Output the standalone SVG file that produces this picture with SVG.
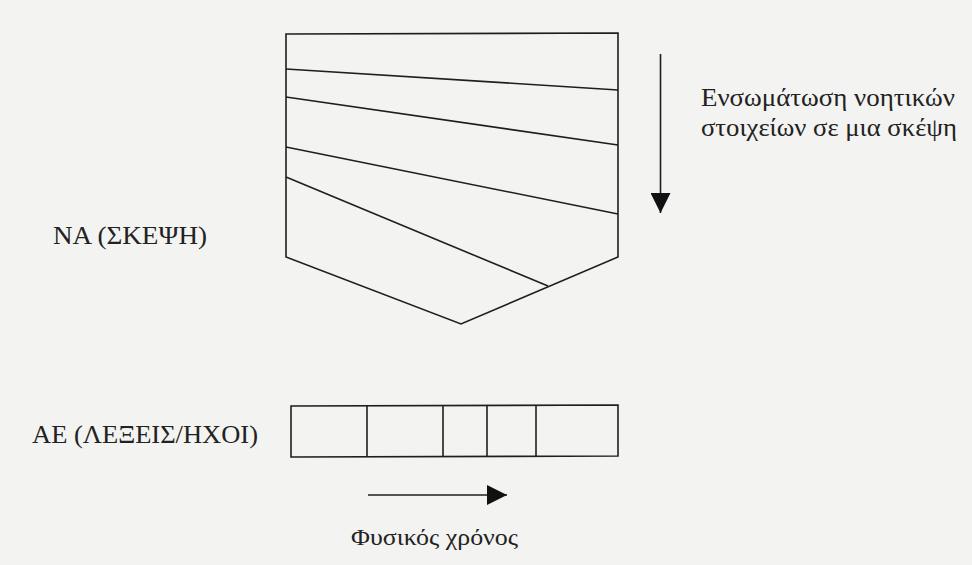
<svg xmlns="http://www.w3.org/2000/svg" width="972" height="565" viewBox="0 0 972 565">
<style>
.ln{fill:none;stroke:#1e1e1e;stroke-width:1.6;stroke-linejoin:miter}
.t{font-family:'Liberation Serif','DejaVu Serif',serif;fill:#222}
</style>
<defs>
<marker id="ah" viewBox="0 0 20 20" refX="20" refY="10" markerWidth="20" markerHeight="20" markerUnits="userSpaceOnUse" orient="auto">
<path d="M0,0 L20,10 L0,20 Z" fill="#111"/>
</marker>
</defs>
<rect width="972" height="565" fill="#f3f3f1"/>
<g id="thought">
<path class="ln" d="M286,34 L618,33 L618,257 L461,324 L286,257 Z"/>
<line class="ln" x1="286" y1="69" x2="618" y2="90"/>
<line class="ln" x1="286" y1="97" x2="618" y2="145"/>
<line class="ln" x1="286" y1="147" x2="618" y2="214"/>
<line class="ln" x1="286" y1="177" x2="548" y2="286"/>
</g>
<g id="words">
<path class="ln" d="M291,406 L618,405 L618,456 L291,457 Z"/>
<line class="ln" x1="367" y1="406" x2="367" y2="457"/>
<line class="ln" x1="443" y1="406" x2="443" y2="456"/>
<line class="ln" x1="487" y1="405" x2="487" y2="457"/>
<line class="ln" x1="536" y1="405" x2="536" y2="456"/>
</g>
<g id="connectors">
<line class="ln" x1="660.5" y1="54" x2="660.5" y2="213" marker-end="url(#ah)"/>
<line class="ln" x1="368" y1="495" x2="507" y2="495" marker-end="url(#ah)"/>
</g>
<g id="labels">
<text class="t" x="701" y="106" font-size="25" textLength="254" lengthAdjust="spacingAndGlyphs">Ενσωμάτωση νοητικών</text>
<text class="t" x="701" y="136" font-size="25" textLength="256" lengthAdjust="spacingAndGlyphs">στοιχείων σε μια σκέψη</text>
<text class="t" x="53" y="244" font-size="26" textLength="154" lengthAdjust="spacingAndGlyphs">ΝΑ (ΣΚΕΨΗ)</text>
<text class="t" x="32" y="443" font-size="26" textLength="226" lengthAdjust="spacingAndGlyphs">ΑΕ (ΛΕΞΕΙΣ/ΗΧΟΙ)</text>
<text class="t" x="351" y="545" font-size="24" textLength="167" lengthAdjust="spacingAndGlyphs">Φυσικός χρόνος</text>
</g>
</svg>
